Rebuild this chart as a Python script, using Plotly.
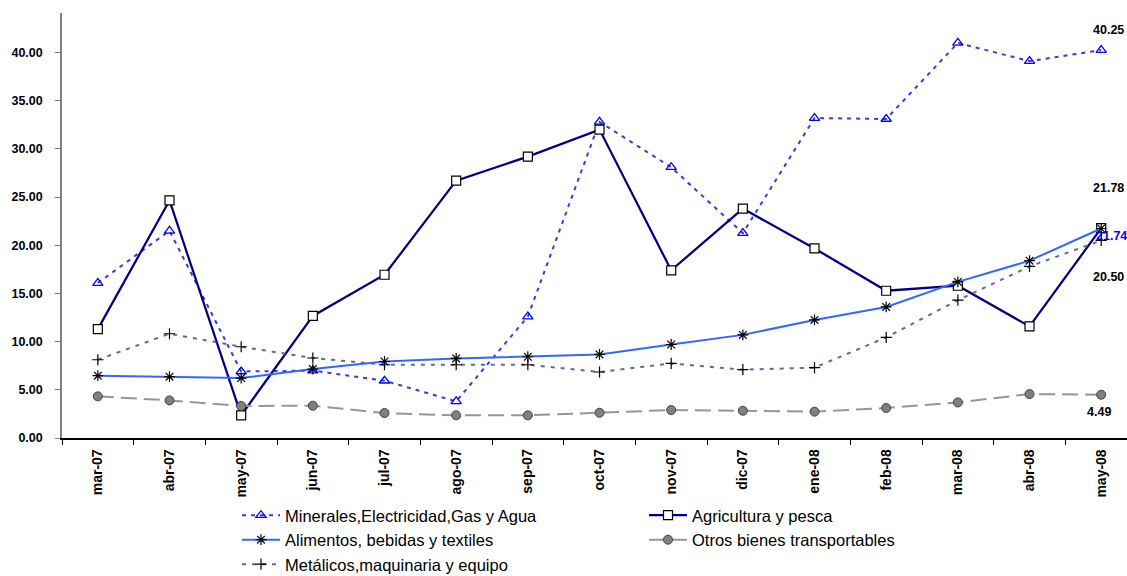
import plotly.graph_objects as go

# ==================== DATA ====================
months = ["mar-07", "abr-07", "may-07", "jun-07", "jul-07", "ago-07", "sep-07", "oct-07",
          "nov-07", "dic-07", "ene-08", "feb-08", "mar-08", "abr-08", "may-08"]

minerales = [16.08, 21.5, 6.9, 7.0, 5.94, 3.8, 12.6, 32.8, 28.1, 21.26, 33.2, 33.1, 41.0, 39.1, 40.25]
agricultura = [11.3, 24.65, 2.35, 12.67, 16.94, 26.7, 29.2, 32.0, 17.4, 23.8, 19.67, 15.28, 15.8, 11.58, 21.78]
alimentos = [6.47, 6.36, 6.22, 7.15, 7.94, 8.26, 8.43, 8.67, 9.7, 10.7, 12.25, 13.6, 16.2, 18.4, 21.74]
otros = [4.32, 3.9, 3.32, 3.35, 2.59, 2.35, 2.35, 2.62, 2.9, 2.83, 2.73, 3.11, 3.69, 4.56, 4.49]
metalicos = [8.12, 10.82, 9.47, 8.3, 7.6, 7.6, 7.6, 6.85, 7.74, 7.09, 7.3, 10.44, 14.3, 17.8, 20.50]

y_ticks = [0, 5, 10, 15, 20, 25, 30, 35, 40]

FONT = "Liberation Sans, Arial, sans-serif"

fig = go.Figure()

fig.add_trace(go.Scatter(
    x=months, y=minerales, mode="lines+markers",
    name="Minerales,Electricidad,Gas y Agua",
    line=dict(color="#3b3bd6", width=2, dash="4px,5px"),
    marker=dict(symbol="triangle-up-open", size=9, color="#0000ff",
                line=dict(color="#0000ff", width=1.3)),
))
fig.add_trace(go.Scatter(
    x=months, y=agricultura, mode="lines+markers",
    name="Agricultura y pesca",
    line=dict(color="#000080", width=2.25),
    marker=dict(symbol="square", size=9, color="white",
                line=dict(color="#000000", width=1.2)),
))
fig.add_trace(go.Scatter(
    x=months, y=alimentos, mode="lines+markers",
    name="Alimentos, bebidas y textiles",
    line=dict(color="#3366ff", width=2),
    marker=dict(symbol="asterisk-open", size=9, color="#000000",
                line=dict(color="#000000", width=1.2)),
))
fig.add_trace(go.Scatter(
    x=months, y=otros, mode="lines+markers",
    name="Otros bienes transportables",
    line=dict(color="#969696", width=2, dash="16px,7px"),
    marker=dict(symbol="circle", size=9, color="#808080",
                line=dict(color="#404040", width=1)),
))
fig.add_trace(go.Scatter(
    x=months, y=metalicos, mode="lines+markers",
    name="Metálicos,maquinaria y equipo",
    line=dict(color="#666699", width=2, dash="4px,6px"),
    marker=dict(symbol="cross-thin-open", size=8, color="#000000",
                line=dict(color="#000000", width=1.2)),
))

# end-of-series value labels, placed around the last point as in the original
last = months[-1]
labels = [
    # value, yshift, colour, xshift, anchor
    (minerales[-1], 20, "#000000", 25, "right"),
    (agricultura[-1], 40, "#000000", 25, "right"),
    (alimentos[-1], -8, "#0000ff", -7, "left"),
    (metalicos[-1], -37, "#000000", 25, "right"),
    (otros[-1], -17, "#000000", 12, "right"),
]
for val, dy, col, dx, anchor in labels:
    fig.add_annotation(
        x=last, y=val, text=f"{val:.2f}", showarrow=False,
        xshift=dx, yshift=dy, xanchor=anchor,
        font=dict(family=FONT, size=12.5, color=col, weight="bold"),
    )

fig.update_layout(
    width=1127, height=576,
    paper_bgcolor="white", plot_bgcolor="white",
    margin=dict(l=62, r=0, t=13, b=138),
    font=dict(family=FONT, color="#000000"),
    showlegend=True,
    legend=dict(
        orientation="h", entrywidth=354, entrywidthmode="pixels",
        xref="container", yref="container",
        x=237 / 1127, y=1 - 498 / 576, xanchor="left", yanchor="top",
        font=dict(family=FONT, size=16.5, color="#000000"),
        itemwidth=38, bgcolor="rgba(0,0,0,0)",
    ),
    xaxis=dict(
        type="category", range=[-0.5, 14.36], automargin=False,
        tickson="boundaries", ticks="outside", ticklen=5, tickcolor="#000000",
        tickangle=-90, showgrid=False, zeroline=False, ticklabelstandoff=4,
        showline=True, linecolor="#000000", linewidth=1.5,
        tickfont=dict(family=FONT, size=14, color="#000000", weight="bold"),
    ),
    yaxis=dict(
        range=[0, 44.1], tickvals=y_ticks, tickformat=".2f", automargin=False,
        ticks="outside", ticklen=5, tickcolor="#808080", ticklabelstandoff=10,
        showgrid=False, zeroline=False,
        showline=True, linecolor="#808080", linewidth=1.5,
        tickfont=dict(family=FONT, size=12.5, color="#000000", weight="bold"),
    ),
)

# page body has a default 8px margin; remove it so the figure fills the window
fig.write_html("out.html", config={"displayModeBar": False},
               post_script="document.body.style.margin='0';")
